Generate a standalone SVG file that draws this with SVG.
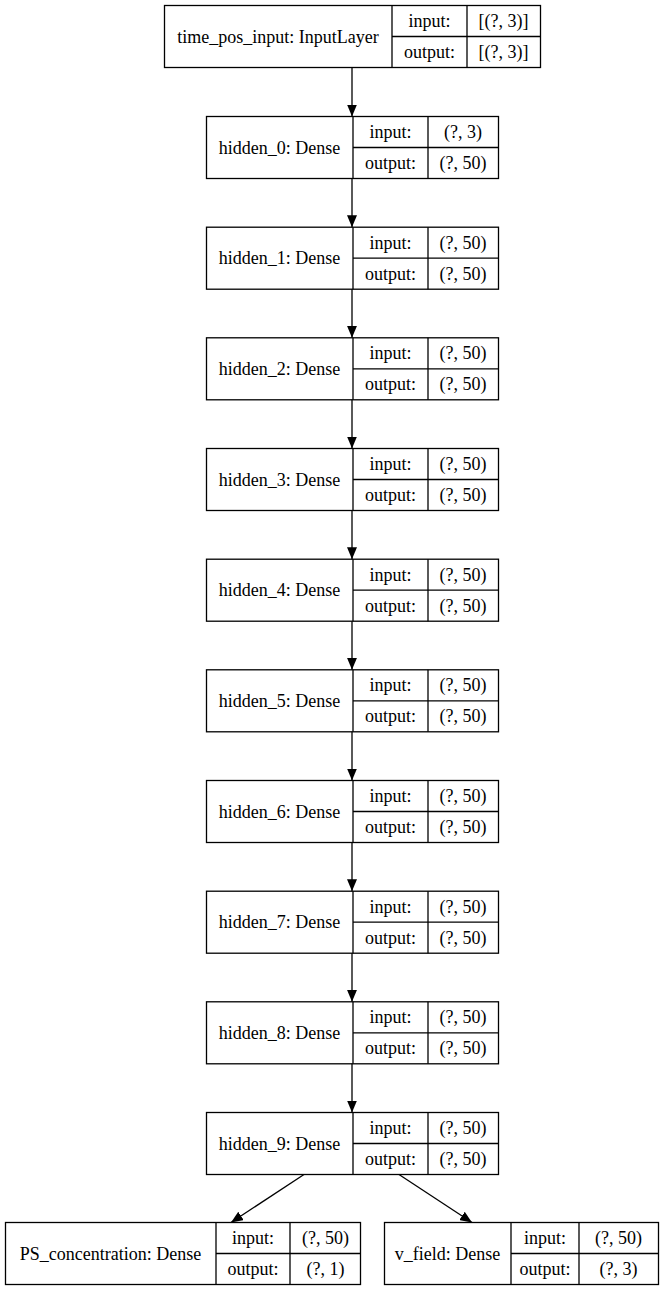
<svg xmlns="http://www.w3.org/2000/svg" width="664" height="1291" viewBox="0 0 664 1291">
<style>
.n rect, line.d { fill: none; stroke: #000; stroke-width: 1.3; }
text { font-family: "Liberation Serif", "Times New Roman", serif; font-size: 18px; fill: #000; text-anchor: middle; }
.e { stroke: #000; stroke-width: 1.3; fill: none; }
</style>
<defs>
<marker id="ah" viewBox="0 0 12 10" refX="12" refY="5" markerWidth="12" markerHeight="10" markerUnits="userSpaceOnUse" orient="auto">
<path d="M0,0 L12,5 L0,10 Z" fill="#000"/>
</marker>
</defs>
<rect x="0" y="0" width="664" height="1291" fill="#fff"/>

<g id="time_pos_input" class="n">
<rect x="164.5" y="5.5" width="376" height="62"/>
<line class="d" x1="392" y1="5.5" x2="392" y2="67.5"/>
<line class="d" x1="467" y1="5.5" x2="467" y2="67.5"/>
<line class="d" x1="392" y1="36.5" x2="540.5" y2="36.5"/>
<text x="278" y="42.5">time_pos_input: InputLayer</text>
<text x="429.5" y="27">input:</text>
<text x="429.5" y="58">output:</text>
<text x="503.5" y="27">[(?, 3)]</text>
<text x="503.5" y="58">[(?, 3)]</text>
</g>

<g id="hidden_0" class="n" transform="translate(0,116.5)">
<rect x="206.5" y="0" width="292" height="62"/>
<line class="d" x1="353" y1="0" x2="353" y2="62"/>
<line class="d" x1="428" y1="0" x2="428" y2="62"/>
<line class="d" x1="353" y1="31" x2="498.5" y2="31"/>
<text x="279.5" y="37">hidden_0: Dense</text>
<text x="390.5" y="21.5">input:</text>
<text x="390.5" y="52.5">output:</text>
<text x="463" y="21.5">(?, 3)</text>
<text x="463" y="52.5">(?, 50)</text>
</g>
<g id="hidden_1" class="n" transform="translate(0,227.2)">
<rect x="206.5" y="0" width="292" height="62"/>
<line class="d" x1="353" y1="0" x2="353" y2="62"/>
<line class="d" x1="428" y1="0" x2="428" y2="62"/>
<line class="d" x1="353" y1="31" x2="498.5" y2="31"/>
<text x="279.5" y="37">hidden_1: Dense</text>
<text x="390.5" y="21.5">input:</text>
<text x="390.5" y="52.5">output:</text>
<text x="463" y="21.5">(?, 50)</text>
<text x="463" y="52.5">(?, 50)</text>
</g>
<g id="hidden_2" class="n" transform="translate(0,337.8)">
<rect x="206.5" y="0" width="292" height="62"/>
<line class="d" x1="353" y1="0" x2="353" y2="62"/>
<line class="d" x1="428" y1="0" x2="428" y2="62"/>
<line class="d" x1="353" y1="31" x2="498.5" y2="31"/>
<text x="279.5" y="37">hidden_2: Dense</text>
<text x="390.5" y="21.5">input:</text>
<text x="390.5" y="52.5">output:</text>
<text x="463" y="21.5">(?, 50)</text>
<text x="463" y="52.5">(?, 50)</text>
</g>
<g id="hidden_3" class="n" transform="translate(0,448.5)">
<rect x="206.5" y="0" width="292" height="62"/>
<line class="d" x1="353" y1="0" x2="353" y2="62"/>
<line class="d" x1="428" y1="0" x2="428" y2="62"/>
<line class="d" x1="353" y1="31" x2="498.5" y2="31"/>
<text x="279.5" y="37">hidden_3: Dense</text>
<text x="390.5" y="21.5">input:</text>
<text x="390.5" y="52.5">output:</text>
<text x="463" y="21.5">(?, 50)</text>
<text x="463" y="52.5">(?, 50)</text>
</g>
<g id="hidden_4" class="n" transform="translate(0,559.2)">
<rect x="206.5" y="0" width="292" height="62"/>
<line class="d" x1="353" y1="0" x2="353" y2="62"/>
<line class="d" x1="428" y1="0" x2="428" y2="62"/>
<line class="d" x1="353" y1="31" x2="498.5" y2="31"/>
<text x="279.5" y="37">hidden_4: Dense</text>
<text x="390.5" y="21.5">input:</text>
<text x="390.5" y="52.5">output:</text>
<text x="463" y="21.5">(?, 50)</text>
<text x="463" y="52.5">(?, 50)</text>
</g>
<g id="hidden_5" class="n" transform="translate(0,669.8)">
<rect x="206.5" y="0" width="292" height="62"/>
<line class="d" x1="353" y1="0" x2="353" y2="62"/>
<line class="d" x1="428" y1="0" x2="428" y2="62"/>
<line class="d" x1="353" y1="31" x2="498.5" y2="31"/>
<text x="279.5" y="37">hidden_5: Dense</text>
<text x="390.5" y="21.5">input:</text>
<text x="390.5" y="52.5">output:</text>
<text x="463" y="21.5">(?, 50)</text>
<text x="463" y="52.5">(?, 50)</text>
</g>
<g id="hidden_6" class="n" transform="translate(0,780.5)">
<rect x="206.5" y="0" width="292" height="62"/>
<line class="d" x1="353" y1="0" x2="353" y2="62"/>
<line class="d" x1="428" y1="0" x2="428" y2="62"/>
<line class="d" x1="353" y1="31" x2="498.5" y2="31"/>
<text x="279.5" y="37">hidden_6: Dense</text>
<text x="390.5" y="21.5">input:</text>
<text x="390.5" y="52.5">output:</text>
<text x="463" y="21.5">(?, 50)</text>
<text x="463" y="52.5">(?, 50)</text>
</g>
<g id="hidden_7" class="n" transform="translate(0,891.2)">
<rect x="206.5" y="0" width="292" height="62"/>
<line class="d" x1="353" y1="0" x2="353" y2="62"/>
<line class="d" x1="428" y1="0" x2="428" y2="62"/>
<line class="d" x1="353" y1="31" x2="498.5" y2="31"/>
<text x="279.5" y="37">hidden_7: Dense</text>
<text x="390.5" y="21.5">input:</text>
<text x="390.5" y="52.5">output:</text>
<text x="463" y="21.5">(?, 50)</text>
<text x="463" y="52.5">(?, 50)</text>
</g>
<g id="hidden_8" class="n" transform="translate(0,1001.8)">
<rect x="206.5" y="0" width="292" height="62"/>
<line class="d" x1="353" y1="0" x2="353" y2="62"/>
<line class="d" x1="428" y1="0" x2="428" y2="62"/>
<line class="d" x1="353" y1="31" x2="498.5" y2="31"/>
<text x="279.5" y="37">hidden_8: Dense</text>
<text x="390.5" y="21.5">input:</text>
<text x="390.5" y="52.5">output:</text>
<text x="463" y="21.5">(?, 50)</text>
<text x="463" y="52.5">(?, 50)</text>
</g>
<g id="hidden_9" class="n" transform="translate(0,1112.5)">
<rect x="206.5" y="0" width="292" height="62"/>
<line class="d" x1="353" y1="0" x2="353" y2="62"/>
<line class="d" x1="428" y1="0" x2="428" y2="62"/>
<line class="d" x1="353" y1="31" x2="498.5" y2="31"/>
<text x="279.5" y="37">hidden_9: Dense</text>
<text x="390.5" y="21.5">input:</text>
<text x="390.5" y="52.5">output:</text>
<text x="463" y="21.5">(?, 50)</text>
<text x="463" y="52.5">(?, 50)</text>
</g>

<g id="PS_concentration" class="n" transform="translate(0,1222.5)">
<rect x="5.5" y="0" width="355" height="62"/>
<line class="d" x1="216" y1="0" x2="216" y2="62"/>
<line class="d" x1="290" y1="0" x2="290" y2="62"/>
<line class="d" x1="216" y1="31" x2="360.5" y2="31"/>
<text x="110.5" y="37">PS_concentration: Dense</text>
<text x="253" y="21.5">input:</text>
<text x="253" y="52.5">output:</text>
<text x="325.5" y="21.5">(?, 50)</text>
<text x="325.5" y="52.5">(?, 1)</text>
</g>
<g id="v_field" class="n" transform="translate(0,1222.5)">
<rect x="384.5" y="0" width="274" height="62"/>
<line class="d" x1="511" y1="0" x2="511" y2="62"/>
<line class="d" x1="579" y1="0" x2="579" y2="62"/>
<line class="d" x1="511" y1="31" x2="658.5" y2="31"/>
<text x="447.5" y="37">v_field: Dense</text>
<text x="545" y="21.5">input:</text>
<text x="545" y="52.5">output:</text>
<text x="618.5" y="21.5">(?, 50)</text>
<text x="618.5" y="52.5">(?, 3)</text>
</g>

<g id="connectors">
<line class="e" x1="352" y1="67.5" x2="352" y2="116.5" marker-end="url(#ah)"/>
<line class="e" x1="352" y1="178.5" x2="352" y2="227.2" marker-end="url(#ah)"/>
<line class="e" x1="352" y1="289.2" x2="352" y2="337.8" marker-end="url(#ah)"/>
<line class="e" x1="352" y1="399.8" x2="352" y2="448.5" marker-end="url(#ah)"/>
<line class="e" x1="352" y1="510.5" x2="352" y2="559.2" marker-end="url(#ah)"/>
<line class="e" x1="352" y1="621.2" x2="352" y2="669.8" marker-end="url(#ah)"/>
<line class="e" x1="352" y1="731.8" x2="352" y2="780.5" marker-end="url(#ah)"/>
<line class="e" x1="352" y1="842.5" x2="352" y2="891.2" marker-end="url(#ah)"/>
<line class="e" x1="352" y1="953.2" x2="352" y2="1001.8" marker-end="url(#ah)"/>
<line class="e" x1="352" y1="1063.8" x2="352" y2="1112.5" marker-end="url(#ah)"/>
<line class="e" x1="304" y1="1174.5" x2="231" y2="1222.5" marker-end="url(#ah)"/>
<line class="e" x1="399" y1="1174.5" x2="472" y2="1222.5" marker-end="url(#ah)"/>
</g>
</svg>
